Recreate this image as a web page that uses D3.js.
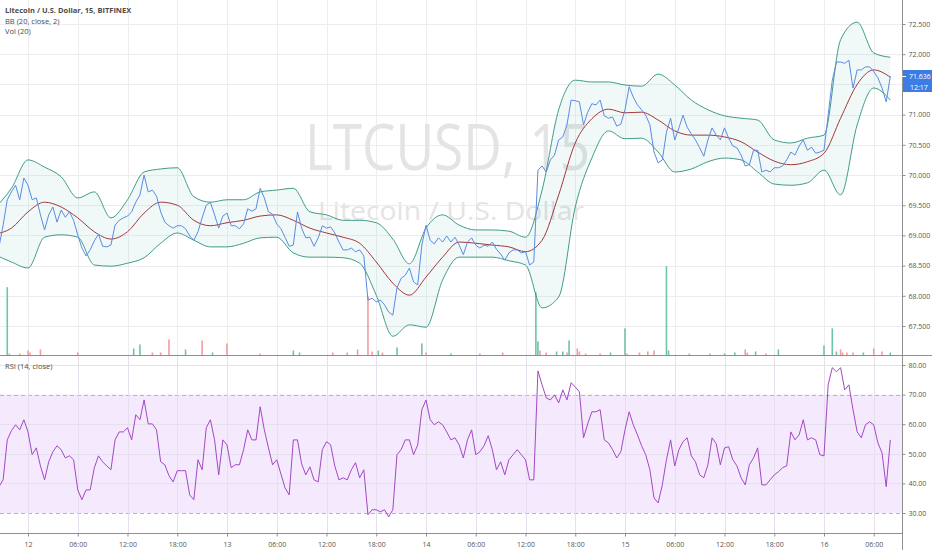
<!DOCTYPE html>
<html>
<head>
<meta charset="utf-8">
<script src="https://cdn.jsdelivr.net/npm/d3@7"></script>
<style>
  body { margin: 0; background: #fff; }
  text { font-family: "Open Sans", sans-serif; }
</style>
</head>
<body>
<div id="chart"></div>
<script>
// LTCUSD 15m, Bitfinex
const dayStart = Date.UTC(2020, 1, 12);
const HOUR = 3600 * 1000, HALF = HOUR / 2, QUARTER = HOUR / 4;

// close, sampled every 30 minutes, first point 3.5h before day 12
const closeStart = -7;
const closes = [
  68.81, 69.17, 69.59, 69.72, 69.83, 69.59, 69.95, 69.83, 69.59, 69.62,
  69.34, 69.09, 69.34, 69.47, 69.22, 69.42, 69.30, 69.39, 69.25, 69.01,
  68.79, 68.66, 68.76, 68.91, 69.02, 68.82, 68.81, 68.84, 69.17, 69.25,
  69.29, 69.32, 69.39, 69.55, 69.67, 70.00, 69.72, 69.75, 69.65, 69.39,
  69.22, 69.16, 69.12, 69.16, 69.16, 69.11, 68.99, 68.92, 69.06, 69.29,
  69.50, 69.55, 69.34, 69.12, 69.32, 69.37, 69.16, 69.16, 69.11, 69.19,
  69.44, 69.40, 69.44, 69.78, 69.62, 69.39, 69.35, 69.19, 69.11, 68.97,
  68.82, 68.84, 69.39, 69.12, 68.96, 68.97, 68.82, 68.96, 69.16, 69.12,
  69.14, 69.04, 68.89, 68.76, 68.76, 68.79, 68.73, 68.76, 68.66, 67.93,
  67.96, 67.90, 67.93, 67.85, 67.73, 67.68, 68.13, 68.29, 68.34, 68.46,
  68.23, 68.18, 68.84, 69.17, 68.92, 68.86, 68.96, 68.89, 68.99, 68.89,
  68.97, 68.84, 68.68, 68.89, 68.96, 68.84, 68.79, 68.84, 68.82, 68.89,
  68.77, 68.69, 68.59, 68.71, 68.76, 68.76, 68.71, 68.73, 68.51, 68.56,
  70.08, 70.15, 70.05, 70.25, 70.33, 70.58, 70.63, 70.83, 71.24, 71.23,
  71.21, 70.83, 71.04, 71.18, 71.16, 71.24, 70.98, 70.94, 70.96, 70.81,
  70.84, 71.08, 71.46, 71.29, 71.16, 71.08, 70.99, 70.83, 70.38, 70.20,
  70.25, 70.71, 70.94, 70.58, 70.78, 70.99, 70.79, 70.68, 70.58, 70.45,
  70.31, 70.58, 70.78, 70.66, 70.58, 70.78, 70.61, 70.48, 70.45, 70.33,
  70.15, 70.17, 70.41, 70.41, 70.05, 70.08, 70.05, 70.12, 70.12, 70.15,
  70.25, 70.38, 70.33, 70.48, 70.58, 70.41, 70.46, 70.36, 70.38, 70.41,
  70.99, 71.57, 71.87, 71.87, 71.85, 71.90, 71.44, 71.74, 71.74, 71.79,
  71.79, 71.71, 71.61, 71.44, 71.21, 71.636
];

// RSI (14, close), same 30-minute grid
const rsiValues = [
  38.9, 41.2, 54.7, 57.8, 59.8, 58.1, 61.5, 57.4, 49.7, 52.0,
  45.9, 41.2, 47.3, 50.7, 52.7, 51.4, 48.6, 49.3, 48.0, 37.8,
  34.5, 37.8, 37.8, 45.3, 49.3, 47.3, 45.9, 44.6, 54.7, 57.4,
  57.4, 58.8, 54.7, 63.2, 61.5, 68.2, 60.1, 60.1, 58.1, 47.3,
  46.3, 42.6, 40.5, 44.3, 44.3, 44.3, 36.1, 34.5, 48.0, 44.6,
  58.8, 61.5, 54.7, 42.9, 54.7, 53.0, 45.3, 46.3, 46.3, 51.4,
  58.1, 54.7, 54.7, 65.9, 58.1, 52.0, 46.3, 48.0, 43.2, 38.5,
  36.1, 54.7, 54.7, 46.6, 42.9, 45.6, 41.2, 40.5, 51.4, 54.1,
  53.0, 45.9, 41.2, 41.9, 41.2, 44.6, 47.0, 41.9, 44.6, 29.4,
  31.1, 31.1, 30.4, 31.1, 28.7, 31.1, 49.7, 51.4, 54.7, 54.7,
  49.7, 53.0, 64.9, 68.2, 61.5, 59.8, 60.8, 59.8, 57.4, 54.7,
  55.4, 53.0, 48.6, 54.7, 58.1, 49.7, 50.7, 52.7, 56.1, 51.4,
  44.6, 47.3, 42.9, 48.0, 49.7, 51.4, 49.7, 48.0, 41.2, 41.2,
  78.0, 73.3, 68.9, 68.2, 69.9, 67.2, 71.6, 68.2, 74.0, 72.6,
  70.9, 55.4, 60.1, 64.2, 64.2, 64.9, 54.7, 53.7, 51.4, 48.6,
  50.7, 58.1, 64.2, 59.8, 56.4, 52.7, 49.7, 44.6, 35.1, 33.4,
  39.5, 48.0, 54.7, 45.9, 51.4, 54.1, 55.4, 49.3, 47.3, 42.9,
  41.9, 46.3, 55.4, 53.4, 46.3, 52.0, 52.4, 48.0, 45.9, 41.9,
  39.5, 46.3, 48.6, 52.0, 39.5, 39.5, 41.2, 42.9, 43.9, 45.3,
  45.9, 57.4, 54.7, 56.4, 61.5, 54.7, 55.4, 54.7, 49.7, 49.3,
  73.3, 79.1, 77.7, 79.1, 71.6, 73.3, 64.9, 57.4, 55.4, 59.8,
  60.8, 59.8, 53.7, 50.3, 38.9, 54.7
];

// Bollinger bands (20, close, 2), read every 2 hours
const bandStart = -8, bandStep = 4;
const bbUpper = [
  69.45, 69.78, 70.25, 70.13, 69.97, 69.62, 69.72, 69.29, 69.59, 70.05,
  70.10, 70.12, 69.64, 69.55, 69.59, 69.59, 69.72, 69.75, 69.78, 69.39,
  69.34, 69.25, 69.25, 69.21, 68.94, 68.53, 69.12, 69.34, 69.17, 69.09,
  69.09, 69.07, 68.97, 69.75, 71.08, 71.57, 71.54, 71.54, 71.49, 71.47,
  71.67, 71.49, 71.24, 71.08, 70.98, 70.94, 70.91, 70.58, 70.53, 70.61,
  70.66, 72.24, 72.53, 72.02, 71.95
];
const bbBasis = [
  69.02, 69.12, 69.39, 69.55, 69.47, 69.29, 69.06, 68.94, 69.06, 69.37,
  69.55, 69.50, 69.25, 69.16, 69.21, 69.25, 69.32, 69.34, 69.25, 69.12,
  69.04, 68.97, 68.87, 68.56, 68.21, 68.01, 68.31, 68.64, 68.89, 68.87,
  68.84, 68.81, 68.73, 68.92, 69.67, 70.53, 70.93, 71.09, 71.03, 71.04,
  70.91, 70.73, 70.66, 70.66, 70.63, 70.55, 70.38, 70.23, 70.17, 70.22,
  70.36, 70.94, 71.50, 71.74, 71.62
];
const bbLower = [
  68.68, 68.56, 68.46, 68.97, 69.01, 68.97, 68.51, 68.49, 68.54, 68.63,
  68.87, 69.04, 68.92, 68.81, 68.81, 68.87, 68.96, 68.97, 68.71, 68.64,
  68.64, 68.63, 68.54, 68.01, 67.33, 67.52, 67.48, 68.26, 68.64, 68.64,
  68.64, 68.58, 68.51, 67.80, 67.98, 69.47, 70.28, 70.73, 70.60, 70.61,
  70.38, 70.05, 70.10, 70.22, 70.28, 70.25, 70.05, 69.85, 69.83, 69.87,
  70.08, 69.67, 70.83, 71.44, 71.24
];

// volume bars that are visible (15-minute bar index from day 12 00:00)
const volIndex = [
  -10, -9, -4, 0, 1, 6, 24, 51, 54, 60, 64, 68, 76, 84, 89, 96, 112, 128, 131,
  147, 154, 159, 164, 166, 169, 171, 178, 190, 192, 204, 218, 229, 245, 246,
  247, 250, 255, 258, 260, 261, 265, 266, 269, 276, 281, 288, 289, 295, 299,
  302, 308, 309, 319, 329, 336, 341, 346, 347, 351, 356, 362, 384, 388, 390,
  392, 393, 395, 398, 403, 408, 412, 416
];
const volAmount = [
  1700, 50, 50, 125, 75, 150, 75, 175, 275, 75, 75, 400, 150, 375, 75, 300, 50, 125, 75,
  75, 75, 150, 1475, 100, 125, 75, 200, 300, 75, 50, 50, 75, 1575, 350,
  125, 75, 100, 100, 75, 375, 175, 100, 50, 50, 75, 675, 50, 75, 100,
  125, 2225, 125, 50, 50, 50, 75, 150, 75, 100, 50, 150, 250, 675, 100,
  150, 75, 75, 75, 75, 175, 100, 75
];
const volUp = [
  1, 0, 0, 0, 0, 0, 0, 1, 1, 0, 0, 0, 1, 0, 1, 0, 0, 1, 1,
  0, 0, 0, 0, 0, 1, 0, 1, 1, 0, 1, 0, 0, 1, 1,
  0, 0, 1, 1, 0, 1, 0, 0, 0, 0, 1, 1, 0, 0, 0,
  0, 1, 1, 0, 0, 1, 1, 0, 0, 1, 0, 1, 1, 1, 1,
  0, 0, 0, 0, 1, 0, 0, 1
];

const timeLabels = ['12', '06:00', '12:00', '18:00', '13', '06:00', '12:00', '18:00',
  '14', '06:00', '12:00', '18:00', '15', '06:00', '12:00', '18:00', '16', '06:00'];
const priceTicks = [67.5, 68, 68.5, 69, 69.5, 70, 70.5, 71, 71.5, 72, 72.5];
const rsiTicks = [30, 40, 50, 60, 70, 80];
const lastPrice = 71.636, countdown = '12:17';

// layout
const W = 932, H = 550, axisX = 902, paneSplit = 355.5, bottomY = 533;

const svg = d3.select('#chart').append('svg')
  .attr('width', W).attr('height', H);

const x = d3.scaleUtc()
  .domain([new Date(dayStart), new Date(dayStart + 96 * HOUR)])
  .range([28, 824]);
const y = d3.scaleLinear().domain([67.5, 72.5]).range([326, 24]);
const yVol = d3.scaleLinear().domain([0, 2500]).range([paneSplit, 255]);
const yRsi = d3.scaleLinear().domain([30, 80]).range([513, 365]);

const halfDate = i => new Date(dayStart + (closeStart + i) * HALF);
const bandDate = i => new Date(dayStart + (bandStart + i * bandStep) * HALF);
const tickDates = timeLabels.map((_, i) => new Date(dayStart + i * 6 * HOUR));

const defs = svg.append('defs');
defs.append('clipPath').attr('id', 'clipMain')
  .append('rect').attr('x', 0).attr('y', 0).attr('width', axisX).attr('height', paneSplit);
defs.append('clipPath').attr('id', 'clipRsi')
  .append('rect').attr('x', 0).attr('y', paneSplit).attr('width', axisX).attr('height', bottomY - paneSplit);

// grid
const grid = svg.append('g').attr('stroke', '#ededf0').attr('stroke-width', 1);
grid.selectAll('.vg').data(tickDates).join('line')
  .attr('x1', d => Math.round(x(d)) + 0.5).attr('x2', d => Math.round(x(d)) + 0.5)
  .attr('y1', 0).attr('y2', bottomY);
grid.selectAll('.hg').data(priceTicks).join('line')
  .attr('x1', 0).attr('x2', axisX)
  .attr('y1', d => Math.round(y(d)) + 0.5).attr('y2', d => Math.round(y(d)) + 0.5);

// watermark
svg.append('text')
  .attr('x', 305).attr('y', 170)
  .attr('font-size', 64).attr('fill', '#e4e4e4')
  .attr('textLength', 285).attr('lengthAdjust', 'spacingAndGlyphs')
  .text('LTCUSD, 15');
svg.append('text')
  .attr('x', 318).attr('y', 220)
  .attr('font-size', 25).attr('fill', '#e4e4e4')
  .attr('textLength', 266).attr('lengthAdjust', 'spacingAndGlyphs')
  .text('Litecoin / U.S. Dollar');

const main = svg.append('g').attr('clip-path', 'url(#clipMain)');

// volume
main.append('g').selectAll('rect').data(volIndex).join('rect')
  .attr('x', d => x(new Date(dayStart + d * QUARTER)) - 0.8)
  .attr('width', 1.6)
  .attr('y', (d, i) => yVol(volAmount[i]))
  .attr('height', (d, i) => paneSplit - yVol(volAmount[i]))
  .attr('fill', (d, i) => volUp[i] ? '#6fc4a8' : '#f19da0');

// Bollinger bands
const bandArea = d3.area()
  .x((d, i) => x(bandDate(i)))
  .y0((d, i) => y(bbLower[i]))
  .y1(d => y(d))
  .curve(d3.curveMonotoneX);
main.append('path').datum(bbUpper)
  .attr('d', bandArea).attr('fill', 'rgba(38, 166, 154, 0.07)');

const bandLine = d3.line()
  .x((d, i) => x(bandDate(i)))
  .y(d => y(d))
  .curve(d3.curveMonotoneX);
[bbUpper, bbLower].forEach(arr => {
  main.append('path').datum(arr)
    .attr('d', bandLine).attr('fill', 'none')
    .attr('stroke', '#3f9c88').attr('stroke-width', 1);
});
main.append('path').datum(bbBasis)
  .attr('d', bandLine).attr('fill', 'none')
  .attr('stroke', '#a2383c').attr('stroke-width', 1);

// price line
const priceLine = d3.line()
  .x((d, i) => x(halfDate(i)))
  .y(d => y(d));
main.append('path').datum(closes)
  .attr('d', priceLine).attr('fill', 'none')
  .attr('stroke', '#5a8be3').attr('stroke-width', 1);

// RSI pane
const rsiG = svg.append('g').attr('clip-path', 'url(#clipRsi)');
rsiG.append('rect')
  .attr('x', 0).attr('width', axisX)
  .attr('y', yRsi(70)).attr('height', yRsi(30) - yRsi(70))
  .attr('fill', '#f4e9fd');
rsiG.selectAll('.rg').data(rsiTicks.filter(d => d !== 30 && d !== 70)).join('line')
  .attr('x1', 0).attr('x2', axisX)
  .attr('y1', d => Math.round(yRsi(d)) + 0.5).attr('y2', d => Math.round(yRsi(d)) + 0.5)
  .attr('stroke', '#e6e0ee');
rsiG.selectAll('.rd').data([70, 30]).join('line')
  .attr('x1', 0).attr('x2', axisX)
  .attr('y1', d => Math.round(yRsi(d)) + 0.5).attr('y2', d => Math.round(yRsi(d)) + 0.5)
  .attr('stroke', '#b9b4bf').attr('stroke-dasharray', '4,3');
rsiG.selectAll('.vg2').data(tickDates).join('line')
  .attr('x1', d => Math.round(x(d)) + 0.5).attr('x2', d => Math.round(x(d)) + 0.5)
  .attr('y1', paneSplit).attr('y2', bottomY)
  .attr('stroke', '#e6e0ee');
const rsiLine = d3.line()
  .x((d, i) => x(halfDate(i)))
  .y(d => yRsi(d));
rsiG.append('path').datum(rsiValues)
  .attr('d', rsiLine).attr('fill', 'none')
  .attr('stroke', '#a348c4').attr('stroke-width', 1);

// pane divider and axis lines
svg.append('line').attr('x1', 0).attr('x2', W)
  .attr('y1', paneSplit).attr('y2', paneSplit)
  .attr('stroke', '#8f8f8f');
svg.append('line').attr('x1', axisX + 0.5).attr('x2', axisX + 0.5)
  .attr('y1', 0).attr('y2', H).attr('stroke', '#8f8f8f');
svg.append('line').attr('x1', 0).attr('x2', axisX)
  .attr('y1', bottomY + 0.5).attr('y2', bottomY + 0.5).attr('stroke', '#8f8f8f');

// right price axis (the 71.500 label sits under the last-price tag, so it is left out)
const lp = Math.round(y(lastPrice));
const shownPriceTicks = priceTicks.filter(d => Math.abs(y(d) - lp) > 16);
const yAxis = svg.append('g')
  .attr('transform', `translate(${axisX + 0.5},0)`)
  .call(d3.axisRight(y).tickValues(shownPriceTicks).tickFormat(d3.format('.3f')).tickSize(3).tickPadding(3));
const rAxis = svg.append('g')
  .attr('transform', `translate(${axisX + 0.5},0)`)
  .call(d3.axisRight(yRsi).tickValues(rsiTicks).tickFormat(d3.format('.2f')).tickSize(3).tickPadding(3));
const xAxis = svg.append('g')
  .attr('transform', `translate(0,${bottomY + 0.5})`)
  .call(d3.axisBottom(x).tickValues(tickDates).tickFormat((d, i) => timeLabels[i]).tickSize(3).tickPadding(6));
[yAxis, rAxis, xAxis].forEach(g => {
  g.select('.domain').remove();
  g.selectAll('.tick line').attr('stroke', '#8f8f8f');
  g.selectAll('.tick text').attr('fill', '#555').attr('font-size', 7)
    .attr('font-family', '"Open Sans", sans-serif');
});

// last price + countdown labels
svg.append('rect').attr('x', axisX + 1).attr('y', lp - 6).attr('width', W - axisX - 1).attr('height', 11)
  .attr('fill', '#3b7de3');
svg.append('rect').attr('x', axisX + 1).attr('y', lp + 5).attr('width', W - axisX - 1).attr('height', 11)
  .attr('fill', '#3b7de3');
svg.append('line').attr('x1', axisX).attr('x2', axisX + 4)
  .attr('y1', lp + 0.5).attr('y2', lp + 0.5).attr('stroke', '#fff');
svg.append('text').attr('x', axisX + 7).attr('y', lp + 2.5)
  .attr('font-size', 7).attr('fill', '#fff').text(d3.format('.3f')(lastPrice));
svg.append('text').attr('x', axisX + 8).attr('y', lp + 13.5)
  .attr('font-size', 7).attr('fill', '#fff').text(countdown);

// legends
const legend = svg.append('g').attr('fill', '#4a4a4a').attr('font-size', 7.5);
legend.append('text').attr('x', 5).attr('y', 13).attr('font-weight', 'bold')
  .text('Litecoin / U.S. Dollar, 15, BITFINEX');
legend.append('text').attr('x', 5).attr('y', 23.5).text('BB (20, close, 2)');
legend.append('text').attr('x', 5).attr('y', 34).text('Vol (20)');
legend.append('text').attr('x', 5).attr('y', 369).text('RSI (14, close)');
</script>
</body>
</html>
